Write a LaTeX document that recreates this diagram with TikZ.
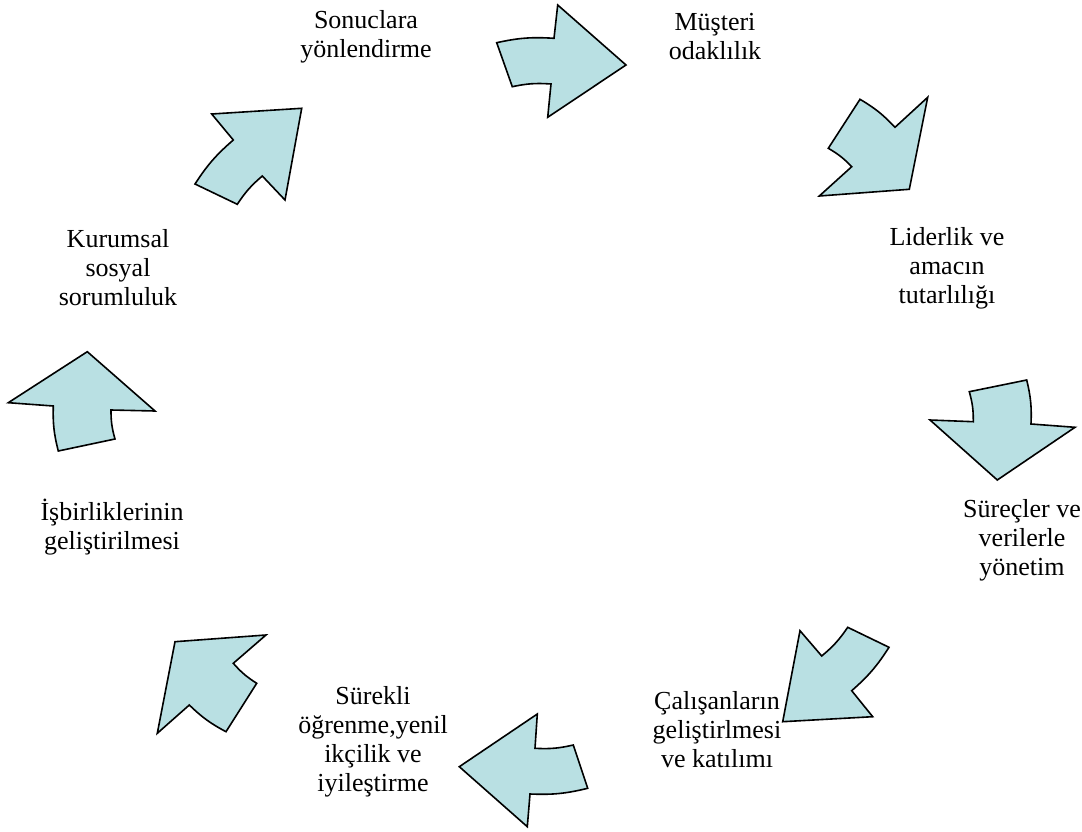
\documentclass[tikz,border=0pt]{standalone}
\usepackage{fontspec}
\setmainfont{Liberation Serif}
\begin{document}
\begin{tikzpicture}[x=1pt,y=-1pt,
  cyclearrow/.style={fill={rgb,255:red,185;green,224;blue,227},draw=black,line width=1.6pt,line join=miter},
  lbl/.style={align=center,inner sep=0pt,font=\fontsize{26}{29}\selectfont},
  bend angle=8]
\useasboundingbox (0,0) rectangle (1082,832);

% labels around the cycle
\node[lbl] (sonuc)   at (366,37)  {Sonuclara\\yönlendirme};
\node[lbl] (musteri) at (715,37)  {Müşteri\\odaklılık};
\node[lbl] (lider)   at (947,268) {Liderlik ve\\amacın\\tutarlılığı};
\node[lbl] (surec)   at (1022,540){Süreçler ve\\verilerle\\yönetim};
\node[lbl] (calisan) at (717,730) {Çalışanların\\geliştirlmesi\\ve katılımı};
\node[lbl] (ogrenme) at (373,742) {Sürekli\\öğrenme,yenil\\ikçilik ve\\iyileştirme};
\node[lbl] (isbir)   at (112,527) {İşbirliklerinin\\geliştirilmesi};
\node[lbl] (kurum)   at (118,268) {Kurumsal\\sosyal\\sorumluluk};

% block arrows, each traced clockwise; the outer shaft edge bends left, the inner one right
\draw[cyclearrow] (496.7,42.7) to[bend left] (554,38.3) -- (557.7,5) -- (626,65)
  -- (547.7,117.3) -- (551,84) to[bend right] (512.3,86.7) -- cycle;
\draw[cyclearrow] (860,99.3) to[bend left] (895,127.3) -- (927.7,97.3) -- (909.3,189.3)
  -- (819.3,196) -- (851.7,166.7) to[bend right] (828.3,148.3) -- cycle;
\draw[cyclearrow] (969.3,391.7) -- (1026.7,380) to[bend left] (1031,424) -- (1075,427.3)
  -- (997.3,480) -- (930,420) -- (973.3,421.7) to[bend right] cycle;
\draw[cyclearrow] (800,630.7) -- (821.7,656) to[bend right] (847.7,627.3) -- (889,647.3)
  to[bend left] (851.7,690.7) -- (872.7,716.7) -- (782.7,721.7) -- cycle;
\draw[cyclearrow] (459.3,766.7) -- (537.3,714) -- (535,748.3) to[bend right] (573.3,745)
  -- (587.7,788.3) to[bend left] (530,794) -- (527.3,826.7) -- cycle;
\draw[cyclearrow] (175,641.7) -- (266,635) -- (233.3,663.3) to[bend right] (256.7,683.3)
  -- (226,731.7) to[bend left] (189.3,705) -- (157.3,733.3) -- cycle;
\draw[cyclearrow] (87.3,351.7) -- (155,411) -- (111,410) to[bend right] (115,439)
  -- (58.3,451) to[bend left] (53.3,406) -- (8.3,402.7) -- cycle;
\draw[cyclearrow] (301.7,108.3) -- (285,200) -- (262.3,176) to[bend right] (237.3,204.3)
  -- (195,184) to[bend left] (233.3,140) -- (211.7,114) -- cycle;
\end{tikzpicture}
\end{document}
